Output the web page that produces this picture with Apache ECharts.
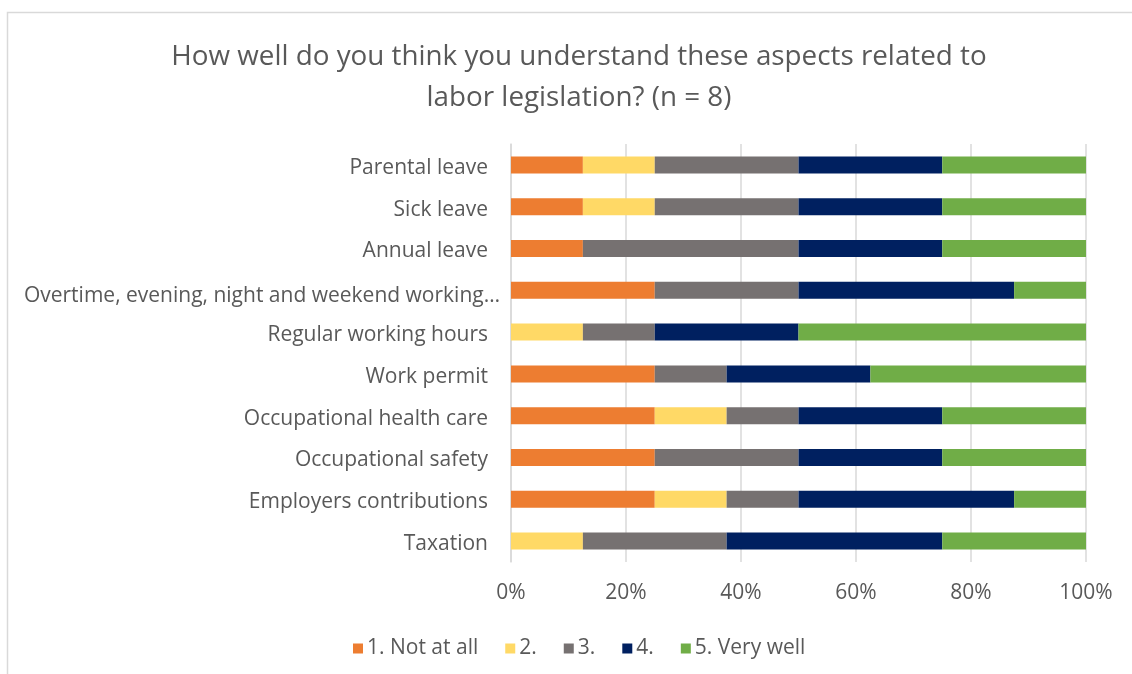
<!DOCTYPE html>
<html>
<head>
<meta charset="utf-8">
<script src="https://cdn.jsdelivr.net/npm/echarts@6/dist/echarts.min.js"></script>
<style>
  html, body { margin: 0; padding: 0; background: #ffffff; }
  #chart { width: 1132px; height: 674px; }
</style>
</head>
<body>
<div id="chart"></div>
<script>
// Survey respondents
const n = 8;

// Aspects, listed top to bottom
const categories = [
  'Parental leave',
  'Sick leave',
  'Annual leave',
  'Overtime, evening, night and weekend working…',
  'Regular working hours',
  'Work permit',
  'Occupational health care',
  'Occupational safety',
  'Employers contributions',
  'Taxation'
];

// Number of answers per level, same order as categories
const notAtAll = [1, 1, 1, 2, 0, 2, 2, 2, 2, 0];
const level2   = [1, 1, 0, 0, 1, 0, 1, 0, 1, 1];
const level3   = [2, 2, 3, 2, 1, 1, 1, 2, 1, 2];
const level4   = [2, 2, 2, 3, 2, 2, 2, 2, 3, 3];
const veryWell = [2, 2, 2, 1, 4, 3, 2, 2, 1, 2];

const seriesNames = ['1. Not at all', '2.', '3.', '4.', '5. Very well'];
const seriesColors = ['#ED7D31', '#FFD966', '#767171', '#002060', '#70AD47'];
const xTicks = [0, 20, 40, 60, 80, 100];

const FONT = '"Open Sans", "Noto Sans", sans-serif';
const TEXT = '#595959';

const toPercent = arr => arr.map(v => v / n * 100);
const seriesData = [notAtAll, level2, level3, level4, veryWell];

const labelStyle = { fontFamily: FONT, fontSize: 21, color: TEXT, padding: [6, 0, 0, 0] };

const chart = echarts.init(document.getElementById('chart'), null, { renderer: 'canvas' });

chart.setOption({
  animation: false,
  backgroundColor: '#ffffff',
  textStyle: { fontFamily: FONT },
  graphic: [{
    type: 'rect',
    shape: { x: 7.5, y: 12.5, width: 1200, height: 800 },
    style: { fill: 'none', stroke: '#d9d9d9', lineWidth: 1.5 },
    silent: true,
    z: -10
  }],
  title: {
    text: 'How well do you think you understand these aspects related to\nlabor legislation? (n = 8)',
    left: 574,
    top: 32,
    textAlign: 'center',
    textStyle: {
      fontFamily: FONT,
      fontSize: 27.8,
      fontWeight: 'normal',
      color: TEXT,
      lineHeight: 41
    }
  },
  legend: {
    data: seriesNames,
    left: 348,
    top: 633,
    icon: 'rect',
    itemWidth: 10,
    itemHeight: 10,
    itemGap: 27,
    textStyle: { fontFamily: FONT, fontSize: 21, color: TEXT, padding: [0, 0, 0, -1] }
  },
  grid: {
    left: 511,
    top: 144,
    width: 575,
    height: 418,
    containLabel: false
  },
  xAxis: {
    type: 'value',
    min: xTicks[0],
    max: xTicks[xTicks.length - 1],
    interval: xTicks[1] - xTicks[0],
    axisLine: { show: false },
    axisTick: { show: false },
    splitLine: { show: true, lineStyle: { color: '#d9d9d9', width: 1.5 } },
    axisLabel: {
      formatter: '{value}%',
      margin: 21,
      fontFamily: FONT,
      fontSize: 21,
      color: TEXT
    }
  },
  yAxis: {
    type: 'category',
    data: categories,
    inverse: true,
    axisLine: { show: true, lineStyle: { color: '#d9d9d9', width: 1.5 } },
    axisTick: { show: false },
    axisLabel: Object.assign({
      margin: 23,
      // the long truncated label sits a little closer to the axis
      formatter: v => v.endsWith('…') ? '{long|' + v + '}' : v,
      rich: {
        long: Object.assign({}, labelStyle, { padding: [6, -12, 0, 0] })
      }
    }, labelStyle)
  },
  series: seriesNames.map((name, i) => ({
    name: name,
    type: 'bar',
    stack: 'total',
    barWidth: 17,
    itemStyle: { color: seriesColors[i] },
    data: toPercent(seriesData[i])
  }))
});
</script>
</body>
</html>
